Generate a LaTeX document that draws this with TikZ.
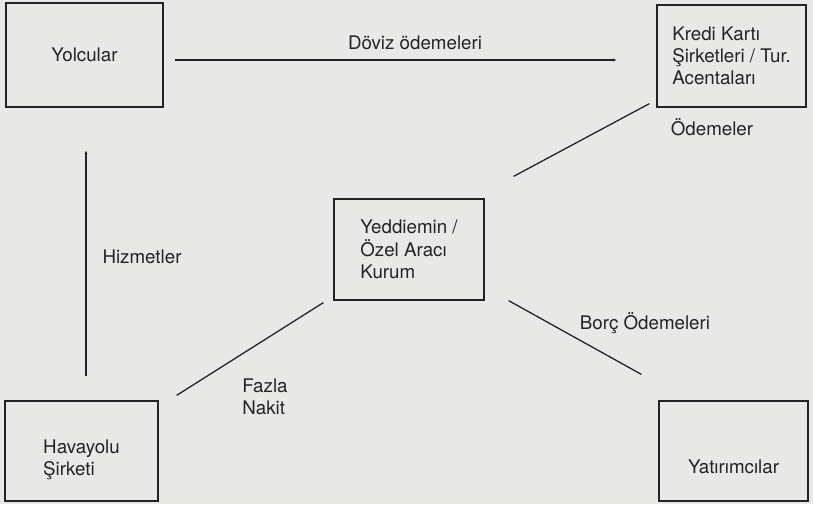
\documentclass[tikz,border=0pt]{standalone}
\usepackage{fontspec}
\setmainfont{TeX Gyre Heros}
\definecolor{scangray}{RGB}{232,232,230}
\definecolor{inkgray}{RGB}{35,35,35}
\usetikzlibrary{arrows.meta}

\begin{document}
\begin{tikzpicture}[x=0.03cm,y=-0.03cm,>=Stealth,
    kutu/.style={draw=inkgray,line width=1.1pt,fill=scangray,
      minimum width=4.5cm,minimum height=3.05cm,align=left,inner sep=0pt,
      font=\fontsize{16}{19}\selectfont,text=inkgray},
    etiket/.style={align=left,inner sep=0pt,
      font=\fontsize{16}{19}\selectfont,text=inkgray},
    akis/.style={draw=inkgray,line width=1.1pt},
    ok/.style={akis,-{Stealth[length=3pt,width=2.4pt]}}]
  \fill[scangray] (0,0) rectangle (813,504);
  \useasboundingbox (0,0) rectangle (813,504);
  %% Boxes
  \node[kutu,minimum width=4.71cm,minimum height=3.12cm] (yolcu) at (84.5,55) {Yolcular};
  \node[kutu,minimum width=4.47cm,minimum height=3.06cm] (kredi) at (731.5,56)
        {Kredi Kartı\\Şirketleri / Tur.\\Acentaları};
  \node[kutu,minimum width=4.5cm,minimum height=3.03cm] (araci) at (409,249.5)
        {Yeddiemin /\\Özel Aracı\\Kurum};
  \node[kutu,minimum width=4.59cm,minimum height=3.0cm] (havayolu) at (81.5,451)
        {\rule{0pt}{27pt}Havayolu\\Şirketi};
  \node[kutu,minimum width=4.47cm,minimum height=3.0cm,text height=38pt] (yatirim) at (733.5,451)
        {Yatırımcılar};
  %% Flows
  \draw[ok] ([xshift=0.33cm,yshift=-0.15cm]yolcu.east) -- ([xshift=-1.2cm,yshift=-0.12cm]kredi.west);
  \draw[ok] ([xshift=0.135cm,yshift=0.72cm]havayolu.north) -- ([xshift=0.045cm,yshift=-1.29cm]yolcu.south);
  \draw[akis] ([xshift=-0.21cm,yshift=0.12cm]kredi.south west) -- ([xshift=0.87cm,yshift=0.66cm]araci.north east);
  \draw[akis] ([xshift=-0.3cm,yshift=-0.06cm]araci.south west) -- ([xshift=0.54cm,yshift=0.15cm]havayolu.north east);
  \draw[akis] ([xshift=0.72cm]araci.south east) -- ([xshift=-0.51cm,yshift=0.78cm]yatirim.north west);
  %% Labels
  \node[etiket] (doviz) at (415,43) {Döviz ödemeleri};
  \node[etiket] (odeme) at (712,127) {Ödemeler};
  \node[etiket] (hizmet) at (142,257) {Hizmetler};
  \node[etiket] (borc) at (645,323) {Borç Ödemeleri};
  \node[etiket] (fazla) at (265,397) {Fazla\\Nakit};
\end{tikzpicture}
\end{document}
